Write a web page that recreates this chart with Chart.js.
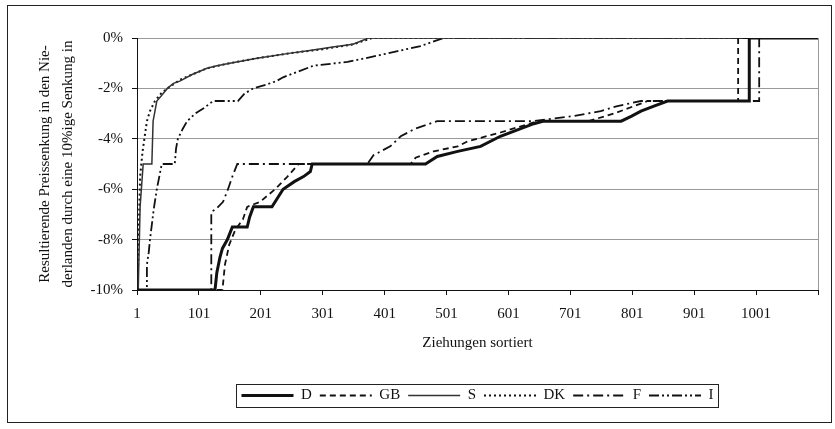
<!DOCTYPE html>
<html>
<head>
<meta charset="utf-8">
<script src="https://cdn.jsdelivr.net/npm/chart.js@4/dist/chart.umd.min.js"></script>
<style>
  html, body { margin: 0; padding: 0; background: #fff; }
</style>
</head>
<body>
<canvas id="chart" width="835" height="429"></canvas>
<script>
// Ziehungen (sortiert) und resultierende Preissenkung in %
var seriesNames = ['D', 'GB', 'S', 'DK', 'F', 'I'];

var drawsD = [1, 127, 130, 135, 139, 147, 155, 179, 183, 189, 219, 237, 255, 270, 281, 284, 467, 486, 519, 556, 588, 642, 658, 783, 800, 815, 836, 858, 990, 990, 1101];
var valuesD = [-10, -10, -9.3, -8.7, -8.35, -8, -7.5, -7.5, -7.1, -6.7, -6.7, -6, -5.7, -5.5, -5.3, -5, -5, -4.7, -4.5, -4.3, -3.9, -3.4, -3.3, -3.3, -3.1, -2.9, -2.7, -2.5, -2.5, 0, 0];

var drawsGB = [1, 139, 143, 150, 160, 172, 179, 200, 224, 244, 262, 443, 451, 480, 519, 535, 588, 642, 660, 730, 771, 804, 826, 972, 972, 1101];
var valuesGB = [-10, -10, -9, -8.2, -7.6, -7.2, -6.7, -6.5, -6, -5.5, -5, -5, -4.75, -4.5, -4.3, -4.1, -3.75, -3.35, -3.3, -3.3, -3.0, -2.7, -2.5, -2.5, 0, 0];

var drawsS = [1, 3, 6, 11, 25, 27, 33, 40, 50, 60, 71, 90, 114, 130, 151, 195, 249, 280, 320, 350, 375, 1101];
var valuesS = [-10, -10, -6.7, -5, -5, -3.3, -2.5, -2.3, -2, -1.8, -1.7, -1.45, -1.2, -1.1, -1, -0.8, -0.6, -0.5, -0.35, -0.25, 0, 0];

var drawsDK = [1, 2, 4, 6, 10, 17, 22, 30, 40, 50, 71, 114, 151, 195, 249, 300, 350, 381, 1101];
var valuesDK = [-10, -10, -7.5, -5.5, -4.5, -3.3, -2.9, -2.5, -2.2, -2, -1.65, -1.2, -1, -0.8, -0.6, -0.45, -0.25, 0, 0];

var drawsF = [1, 121, 121, 128, 140, 148, 155, 163, 373, 383, 410, 427, 450, 486, 640, 706, 750, 777, 815, 1006, 1006, 1101];
var valuesF = [-10, -10, -6.9, -6.8, -6.5, -6, -5.5, -5, -5, -4.65, -4.3, -3.9, -3.6, -3.3, -3.3, -3.1, -2.9, -2.7, -2.5, -2.5, 0, 0];

var drawsI = [1, 17, 17, 20, 22, 28, 33, 41, 62, 64, 67, 75, 82, 95, 108, 124, 164, 175, 189, 210, 227, 237, 286, 341, 380, 422, 459, 496, 1101];
var valuesI = [-10, -10, -9, -8.5, -8, -6.8, -6, -5, -5, -4.4, -4, -3.6, -3.3, -3, -2.8, -2.5, -2.5, -2.2, -2, -1.85, -1.7, -1.56, -1.1, -0.95, -0.75, -0.52, -0.32, 0, 0];

var xTickValues = [1, 101, 201, 301, 401, 501, 601, 701, 801, 901, 1001, 1101];
var yTickValues = [0, -2, -4, -6, -8, -10];

function points(xs, ys) {
    return xs.map(function (x, i) { return { x: x, y: ys[i] }; });
}

function series(label, xs, ys, width, dash, color) {
    return {
        label: label,
        data: points(xs, ys),
        borderColor: color || '#111',
        backgroundColor: color || '#111',
        borderWidth: width,
        borderDash: dash,
        pointRadius: 0,
        pointHoverRadius: 0,
        pointStyle: 'line',
        tension: 0,
        fill: false
    };
}

var serif = "'Liberation Serif', 'DejaVu Serif', serif";

// frames: outer border, right edge of plot, box round the legend
var frames = {
    id: 'frames',
    beforeDatasetsDraw: function (chart) {
        var a = chart.chartArea, ctx = chart.ctx;
        ctx.save();
        ctx.strokeStyle = '#999';
        ctx.lineWidth = 1;
        ctx.beginPath();
        ctx.moveTo(Math.round(a.right) + 0.5, a.top);
        ctx.lineTo(Math.round(a.right) + 0.5, a.bottom);
        ctx.stroke();
        ctx.restore();
    },
    afterDraw: function (chart) {
        var ctx = chart.ctx;
        ctx.save();
        ctx.strokeStyle = '#222';
        ctx.lineWidth = 1;
        ctx.strokeRect(7.5, 5.5, 824, 417);
        var hb = chart.legend.legendHitBoxes;
        if (hb && hb.length) {
            var l = Math.min.apply(null, hb.map(function (h) { return h.left; }));
            var r = Math.max.apply(null, hb.map(function (h) { return h.left + h.width; }));
            var t = hb[0].top, h = hb[0].height;
            ctx.strokeRect(Math.round(l - 5) + 0.5, Math.round(t - 4) + 0.5, Math.round(r - l + 10), Math.round(h + 8));
        }
        ctx.restore();
    }
};

new Chart(document.getElementById('chart'), {
    type: 'line',
    data: {
        datasets: [
            series(seriesNames[0], drawsD, valuesD, 3, []),
            series(seriesNames[1], drawsGB, valuesGB, 1.8, [6, 4]),
            series(seriesNames[2], drawsS, valuesS, 1.5, [], '#333'),
            series(seriesNames[3], drawsDK, valuesDK, 2, [2, 3]),
            series(seriesNames[4], drawsF, valuesF, 1.8, [10, 4, 2, 4]),
            series(seriesNames[5], drawsI, valuesI, 1.8, [10, 3, 2, 3, 2, 3])
        ]
    },
    options: {
        responsive: false,
        animation: false,
        devicePixelRatio: 1,
        layout: {
            padding: { left: 10, top: 38, right: 17, bottom: 16 }
        },
        plugins: {
            tooltip: { enabled: false },
            legend: {
                position: 'bottom',
                fullSize: false,
                labels: {
                    usePointStyle: true,
                    pointStyleWidth: 52,
                    padding: 8,
                    color: '#111',
                    font: { family: serif, size: 15 },
                    // legend samples take the dash and width of their line
                    generateLabels: function (chart) {
                        var items = Chart.defaults.plugins.legend.labels.generateLabels(chart);
                        items.forEach(function (item) {
                            var ds = chart.data.datasets[item.datasetIndex];
                            item.lineDash = ds.borderDash;
                            item.lineWidth = ds.borderWidth;
                            item.strokeStyle = ds.borderColor;
                        });
                        return items;
                    }
                }
            }
        },
        scales: {
            x: {
                type: 'linear',
                min: 1,
                max: 1101,
                afterBuildTicks: function (scale) {
                    scale.ticks = xTickValues.map(function (v) { return { value: v }; });
                },
                afterFit: function (scale) { scale.height = 90; },
                ticks: {
                    autoSkip: false,
                    maxRotation: 0,
                    padding: 10,
                    color: '#111',
                    font: { family: serif, size: 15 },
                    callback: function (v) { return v === 1101 ? '' : String(v); }
                },
                grid: {
                    drawOnChartArea: false,
                    drawTicks: true,
                    tickLength: 5,
                    tickColor: '#111'
                },
                border: { color: '#111', width: 1 },
                title: {
                    display: true,
                    text: 'Ziehungen sortiert',
                    color: '#111',
                    font: { family: serif, size: 15 },
                    padding: { top: 0, bottom: 28 }
                }
            },
            y: {
                min: -10,
                max: 0,
                afterBuildTicks: function (scale) {
                    scale.ticks = yTickValues.map(function (v) { return { value: v }; });
                },
                afterFit: function (scale) { scale.width = 127; },
                ticks: {
                    padding: 9,
                    color: '#111',
                    font: { family: serif, size: 15 },
                    callback: function (v) { return v + '%'; }
                },
                grid: {
                    color: '#999',
                    lineWidth: 1,
                    tickLength: 5,
                    tickColor: '#111'
                },
                border: { color: '#111', width: 1 },
                title: {
                    display: true,
                    text: ['Resultierende Preissenkung in den Nie-', 'derlanden durch eine 10%ige Senkung in'],
                    color: '#111',
                    font: { family: serif, size: 15, lineHeight: 1.5 },
                    padding: { top: 24, bottom: 0 }
                }
            }
        }
    },
    plugins: [frames]
});
</script>
</body>
</html>
